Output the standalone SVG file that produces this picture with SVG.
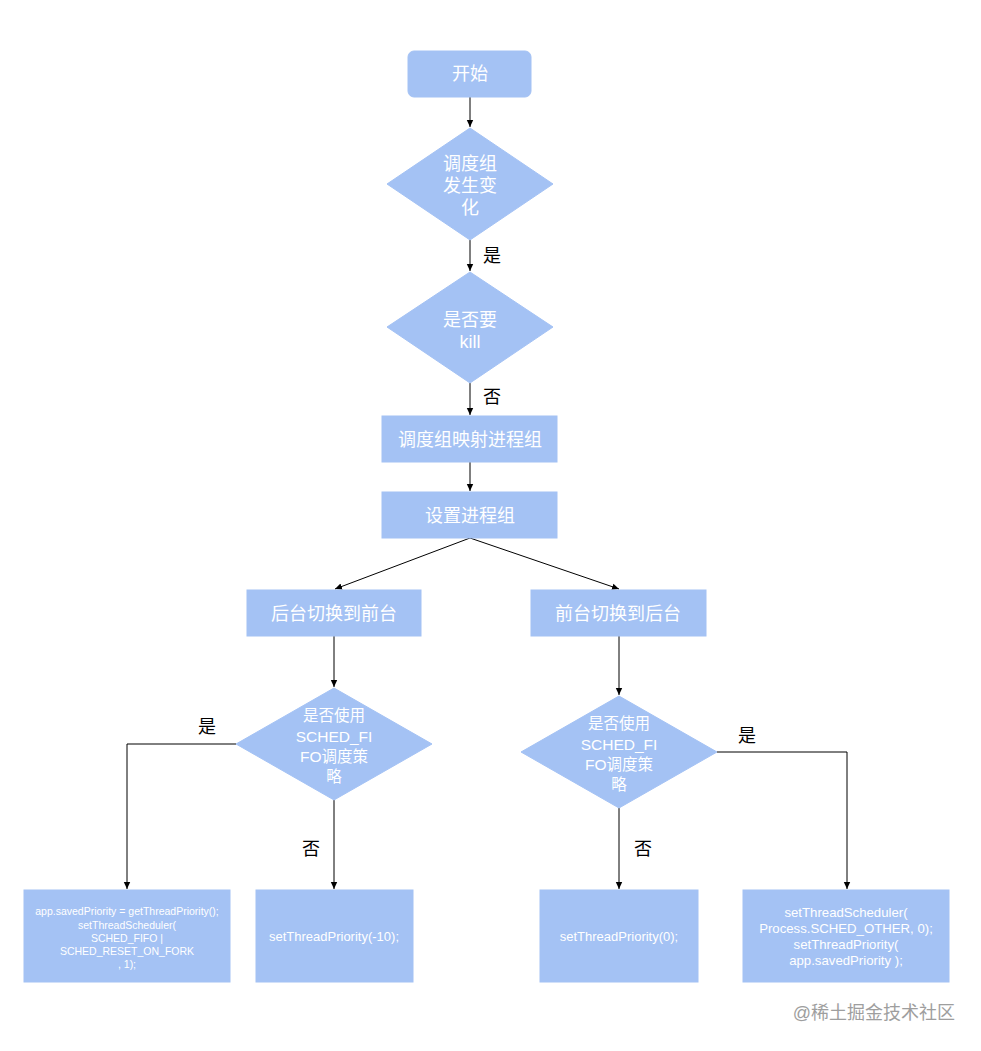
<svg xmlns="http://www.w3.org/2000/svg" width="981" height="1051" viewBox="0 0 981 1051">
<defs>
<marker id="ah" markerWidth="8" markerHeight="8" refX="7" refY="4" orient="auto" markerUnits="userSpaceOnUse">
<path d="M0,0.8 L7,4 L0,7.2 z" fill="#000"/>
</marker>
<style>
.n{fill:#a4c2f4;stroke:#a4c2f4;stroke-width:1}
.t{fill:#fff;font-family:"Liberation Sans","Noto Sans CJK SC",sans-serif;text-anchor:middle}
.l{fill:#000;font-family:"Liberation Sans","Noto Sans CJK SC",sans-serif;font-size:18px;text-anchor:middle}
.c{fill:none;stroke:#000;stroke-width:1}
</style>
</defs>
<rect width="981" height="1051" fill="#fff"/>
<g id="connectors">
<path class="c" d="M470,97 V127" marker-end="url(#ah)"/>
<path class="c" d="M470,240 V271" marker-end="url(#ah)"/>
<path class="c" d="M470,383 V415" marker-end="url(#ah)"/>
<path class="c" d="M470,462 V491" marker-end="url(#ah)"/>
<path class="c" d="M470,538 L335,589" marker-end="url(#ah)"/>
<path class="c" d="M470,538 L619,589" marker-end="url(#ah)"/>
<path class="c" d="M334,636 V687" marker-end="url(#ah)"/>
<path class="c" d="M619,636 V695" marker-end="url(#ah)"/>
<path class="c" d="M236,744 H127 V889" marker-end="url(#ah)"/>
<path class="c" d="M334,800 V889" marker-end="url(#ah)"/>
<path class="c" d="M619,808 V889" marker-end="url(#ah)"/>
<path class="c" d="M717,752 H847 V889" marker-end="url(#ah)"/>
<text class="l" x="492" y="262">是</text>
<text class="l" x="492" y="403">否</text>
<text class="l" x="207" y="733">是</text>
<text class="l" x="311" y="855">否</text>
<text class="l" x="643" y="855">否</text>
<text class="l" x="747" y="742">是</text>
</g>
<g id="start">
<rect class="n" x="408" y="51" width="123" height="46" rx="6"/>
<text class="t" x="470" y="80" font-size="18">开始</text>
</g>
<g id="d1">
<polygon class="n" points="470,128 553,184 470,240 387,184"/>
<text class="t" font-size="18"><tspan x="470" y="170">调度组</tspan><tspan x="470" y="192">发生变</tspan><tspan x="470" y="214">化</tspan></text>
</g>
<g id="d2">
<polygon class="n" points="470,272 553,327 470,383 387,327"/>
<text class="t" font-size="18"><tspan x="470" y="326">是否要</tspan><tspan x="470" y="348">kill</tspan></text>
</g>
<g id="map">
<rect class="n" x="382" y="416" width="175" height="46"/>
<text class="t" x="470" y="446" font-size="18">调度组映射进程组</text>
</g>
<g id="set">
<rect class="n" x="382" y="492" width="175" height="46"/>
<text class="t" x="470" y="522" font-size="18">设置进程组</text>
</g>
<g id="b2f">
<rect class="n" x="247" y="590" width="174" height="46"/>
<text class="t" x="334" y="620" font-size="18">后台切换到前台</text>
</g>
<g id="f2b">
<rect class="n" x="531" y="590" width="175" height="46"/>
<text class="t" x="618" y="620" font-size="18">前台切换到后台</text>
</g>
<g id="dl">
<polygon class="n" points="334,688 432,744 334,800 236,744"/>
<text class="t" font-size="15.5"><tspan x="334" y="721">是否使用</tspan><tspan x="334" y="742">SCHED_FI</tspan><tspan x="334" y="762">FO调度策</tspan><tspan x="334" y="782">略</tspan></text>
</g>
<g id="dr">
<polygon class="n" points="619,696 717,752 619,808 521,752"/>
<text class="t" font-size="15.5"><tspan x="619" y="729">是否使用</tspan><tspan x="619" y="750">SCHED_FI</tspan><tspan x="619" y="770">FO调度策</tspan><tspan x="619" y="790">略</tspan></text>
</g>
<g id="box1">
<rect class="n" x="24" y="890" width="206" height="92"/>
<text class="t" font-size="10.5"><tspan x="127" y="915">app.savedPriority = getThreadPriority();</tspan><tspan x="127" y="929">setThreadScheduler(</tspan><tspan x="127" y="942">SCHED_FIFO |</tspan><tspan x="127" y="955">SCHED_RESET_ON_FORK</tspan><tspan x="127" y="968">, 1);</tspan></text>
</g>
<g id="box2">
<rect class="n" x="256" y="890" width="157" height="92"/>
<text class="t" x="334" y="941" font-size="13">setThreadPriority(-10);</text>
</g>
<g id="box3">
<rect class="n" x="540" y="890" width="158" height="92"/>
<text class="t" x="619" y="941" font-size="13">setThreadPriority(0);</text>
</g>
<g id="box4">
<rect class="n" x="743" y="890" width="206" height="92"/>
<text class="t" font-size="13.2"><tspan x="846" y="917">setThreadScheduler(</tspan><tspan x="846" y="933">Process.SCHED_OTHER, 0);</tspan><tspan x="846" y="949">setThreadPriority(</tspan><tspan x="846" y="965">app.savedPriority );</tspan></text>
</g>
<text x="955" y="1019" font-size="18" fill="#9e9e9e" text-anchor="end" font-family="'Liberation Sans','Noto Sans CJK SC',sans-serif">@稀土掘金技术社区</text>
</svg>
